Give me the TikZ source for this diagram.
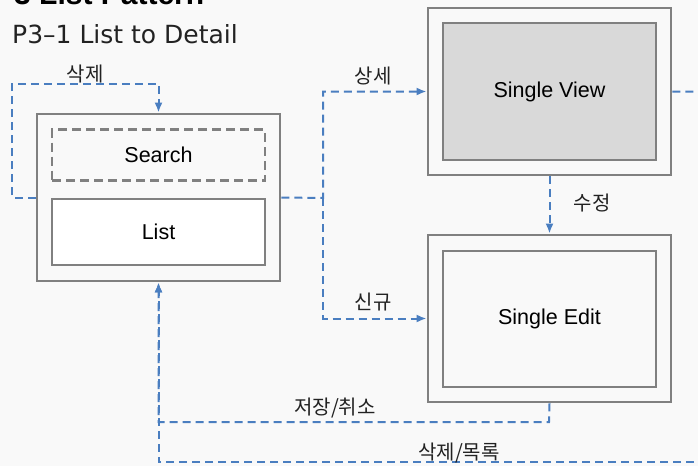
\documentclass[tikz,border=0pt]{standalone}
\usepackage{fontspec}
\setmainfont{Liberation Sans}
\newfontfamily\hangul{Noto Sans CJK KR}
\newfontfamily\subfont{DejaVu Sans}
\usetikzlibrary{arrows.meta}
\definecolor{flowblue}{HTML}{4A7EC0}
\definecolor{framegray}{HTML}{808080}
\definecolor{viewgray}{HTML}{D9D9D9}
\definecolor{pagebg}{HTML}{F9F9F9}
\definecolor{inkdark}{HTML}{222222}

\begin{document}
\begin{tikzpicture}
[x=1pt, y=-1pt,
  framedecorate/.style={draw=framegray, line width=2.8pt, inner sep=0pt,
    minimum width=243pt, minimum height=167pt},
  paneldecorate/.style={draw=framegray, line width=2.8pt, inner sep=0pt,
    minimum width=213pt, font=\fontsize{21.5}{25}\selectfont},
  flowdecorate/.style={draw=flowblue, line width=2pt,
    dash pattern=on 8pt off 5pt, -{Latex[length=10pt,width=8pt]}},
  labeldecorate/.style={font=\hangul\fontsize{20}{24}\selectfont,
    text=inkdark, inner sep=0pt, anchor=base}]
\useasboundingbox (0,0) rectangle (698,466);
\clip (0,0) rectangle (698,466);
\fill[pagebg] (0,0) rectangle (698,466);
%% headings
\node (title) at (14,4) [anchor=base west, inner sep=0pt,
  font=\bfseries\fontsize{30}{36}\selectfont] {3 List Pattern};
\node (subtitle) at (12,43) [anchor=base west, inner sep=0pt, text=inkdark,
  font=\subfont\fontsize{25}{30}\selectfont] {P3–1 List to Detail};
%% screens
\foreach \nodename/\x/\y in {listouter/158.5/197.5, viewouter/549.5/91.5,
  editouter/549.5/318.5}
{
  \node (\nodename) at (\x,\y) [framedecorate] {};
}
\node (search) at (158.5,155) [paneldecorate, minimum height=51pt,
  dash pattern=on 9pt off 5pt] {Search};
\node (list) at (158.5,232) [paneldecorate, minimum height=66pt,
  fill=white] {List};
\node (view) at (549.5,91.5) [paneldecorate, minimum height=137pt,
  fill=viewgray] {Single View};
\node (edit) at (549.5,319) [paneldecorate, minimum height=136pt]
  {Single Edit};
%% helper points
\coordinate (split) at (323,198);
\coordinate (deltop) at (12,84);
\coordinate (saveturn) at (549,422);
\coordinate (viewexit) at (720,92);
\coordinate (backentry) at (720,462);
%% connectors
\draw[flowdecorate] (listouter.west) -| (deltop) -| (listouter.north);
\draw[flowdecorate] (listouter.east) -- (split) |- (viewouter.west);
\draw[flowdecorate] (split) |- (editouter.west);
\draw[flowdecorate] (viewouter.south) -- (editouter.north);
\draw[flowdecorate, -] (viewouter.east) -- (viewexit);
\draw[flowdecorate] (editouter.south) -- (saveturn) -| (listouter.south);
\draw[flowdecorate] (backentry) -| (listouter.south);
%% labels
\foreach \nodename/\x/\y/\text in {dellabel/85/81/삭제, viewlabel/373/83/상세,
  newlabel/373/309/신규, modlabel/592/210/수정, savelabel/335/414/저장\slash 취소,
  backlabel/459/459/삭제\slash 목록}
{
  \node (\nodename) at (\x,\y) [labeldecorate] {\text};
}
\end{tikzpicture}
\end{document}
